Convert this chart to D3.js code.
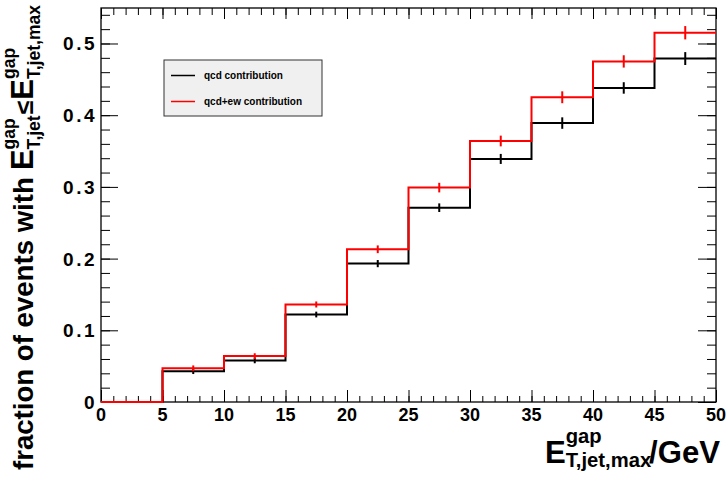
<!DOCTYPE html>
<html><head><meta charset="utf-8">
<script src="https://cdn.jsdelivr.net/npm/d3@7"></script>
<style>
body{margin:0;background:#fff;}
text{font-family:"Liberation Sans",Arial,Helvetica,sans-serif;font-weight:bold;}
</style></head>
<body><svg id="c" width="727" height="478"></svg>
<script>
const binEdges = [0,5,10,15,20,25,30,35,40,45,50];
const qcd     = [0, 0.043, 0.058, 0.122, 0.193, 0.271, 0.339, 0.389, 0.438, 0.479];
const qcdErr  = [0, 0.004, 0.004, 0.004, 0.005, 0.006, 0.007, 0.008, 0.008, 0.009];
const qcdew   = [0, 0.047, 0.064, 0.136, 0.213, 0.299, 0.364, 0.425, 0.475, 0.515];
const qcdewErr= [0, 0.004, 0.004, 0.0042, 0.0054, 0.0067, 0.0075, 0.0083, 0.0086, 0.0093];
const xTicks = [0,5,10,15,20,25,30,35,40,45,50];
const yTicks = [0,0.1,0.2,0.3,0.4,0.5];
const yTickLabels = ["0","0.1","0.2","0.3","0.4","0.5"];
const legendLabels = ["qcd contribution","qcd+ew contribution"];

const svg = d3.select("#c");
const L=101,R=716,T=8,B=402;
const x = d3.scaleLinear().domain([0,50]).range([L,R]);
const y = d3.scaleLinear().domain([0,0.5495]).range([B,T]);

// axes
const ax = svg.append("g");
ax.append("g").attr("transform",`translate(0,${B})`)
  .call(d3.axisBottom(x).tickValues(d3.range(0,51,1)).tickSize(-6).tickFormat(""));
ax.append("g").attr("transform",`translate(0,${B})`)
  .call(d3.axisBottom(x).tickValues(xTicks).tickSize(-12).tickFormat(""));
ax.append("g").attr("transform",`translate(0,${T})`)
  .call(d3.axisTop(x).tickValues(d3.range(0,51,1)).tickSize(-7).tickFormat(""));
ax.append("g").attr("transform",`translate(0,${T})`)
  .call(d3.axisTop(x).tickValues(xTicks).tickSize(-11).tickFormat(""));
ax.append("g").attr("transform",`translate(${L},0)`)
  .call(d3.axisLeft(y).tickValues(d3.range(0,0.55,0.02)).tickSize(-9).tickFormat(""));
ax.append("g").attr("transform",`translate(${L},0)`)
  .call(d3.axisLeft(y).tickValues(yTicks).tickSize(-17).tickFormat(""));
ax.append("g").attr("transform",`translate(${R},0)`)
  .call(d3.axisRight(y).tickValues(d3.range(0,0.55,0.02)).tickSize(-9).tickFormat(""));
ax.append("g").attr("transform",`translate(${R},0)`)
  .call(d3.axisRight(y).tickValues(yTicks).tickSize(-18).tickFormat(""));
ax.selectAll(".domain").remove();
ax.selectAll(".tick line").attr("stroke","#000").attr("stroke-width",1);
svg.append("rect").attr("x",L).attr("y",T).attr("width",R-L).attr("height",B-T)
  .attr("fill","none").attr("stroke","#000").attr("stroke-width",1.3);

// tick labels
svg.append("g").selectAll("text").data(xTicks).join("text")
  .attr("x",d=>x(d)).attr("y",421).attr("text-anchor","middle")
  .attr("font-size",18).text(d=>d);
svg.append("g").selectAll("text").data(yTicks).join("text")
  .attr("x",97).attr("y",d=>y(d)+7).attr("text-anchor","end")
  .attr("font-size",19).attr("letter-spacing",2.5).text((d,i)=>yTickLabels[i]);

// histograms
function stepPts(v){ const p=v.map((d,i)=>[binEdges[i],d]); p.push([binEdges[binEdges.length-1],v[v.length-1]]); return p; }
const line = d3.line().x(d=>x(d[0])).y(d=>y(d[1])).curve(d3.curveStepAfter);
function drawHist(v,e,col){
  svg.append("path").attr("d",line(stepPts(v))).attr("fill","none")
    .attr("stroke",col).attr("stroke-width",2);
  svg.append("g").selectAll("line").data(v).join("line")
    .attr("x1",(d,i)=>x((binEdges[i]+binEdges[i+1])/2))
    .attr("x2",(d,i)=>x((binEdges[i]+binEdges[i+1])/2))
    .attr("y1",(d,i)=>y(d-e[i])).attr("y2",(d,i)=>y(d+e[i]))
    .attr("stroke",col).attr("stroke-width",2);
}
drawHist(qcd,qcdErr,"#000");
drawHist(qcdew,qcdewErr,"#ff0000");

// legend
const lg = svg.append("g");
lg.append("rect").attr("x",164).attr("y",60).attr("width",158).attr("height",56)
  .attr("fill","#f0f0f0").attr("stroke","#333").attr("stroke-width",1);
[["#000",75.5],["#ff0000",101.5]].forEach((c,i)=>{
  lg.append("line").attr("x1",171).attr("x2",195).attr("y1",c[1]).attr("y2",c[1])
    .attr("stroke",c[0]).attr("stroke-width",1.5);
  lg.append("text").attr("x",204).attr("y",c[1]+3.5).attr("font-size",10).text(legendLabels[i]);
});

// rich text helper
function rich(g, parts){
  let cx=0;
  parts.forEach(p=>{
    if(p.t!==undefined){
      const t=g.append("text").attr("x",cx).attr("y",0).attr("font-size",p.s).text(p.t);
      cx += t.node().getComputedTextLength() + (p.gap||0);
    } else {
      const a=g.append("text").attr("x",cx).attr("y",p.supDy).attr("font-size",p.s).text(p.sup);
      const b=g.append("text").attr("x",cx).attr("y",p.subDy).attr("font-size",p.s).text(p.sub);
      cx += Math.max(a.node().getComputedTextLength(), b.node().getComputedTextLength()) + (p.gap||0);
    }
  });
  return cx;
}
// x title: fit to span 545..720
const xt = svg.append("g");
const xin = xt.append("g");
const xw = rich(xin,[{t:"E",s:30},{sup:"gap",sub:"T,jet,max",s:19.5,supDy:-19,subDy:4,gap:-2},{t:"/GeV",s:30}]);
const xk = 175/xw;
xt.attr("transform",`translate(545,463) scale(${xk})`);

// y title: main text spans y 470..172, math part 170..5
const yt = svg.append("g").attr("transform","translate(33,470) rotate(-90)");
const mainT = yt.append("text").attr("x",0).attr("y",0).attr("font-size",28).text("fraction of events with");
const mw0 = mainT.node().getComputedTextLength();
mainT.attr("font-size", 28*293/mw0);
const mg = yt.append("g");
const mathW = rich(mg,[{t:"E",s:30},{sup:"gap",sub:"T,jet",s:17,supDy:-17,subDy:7,gap:1},{t:"\u2264",s:24,gap:1},{t:"E",s:30},{sup:"gap",sub:"T,jet,max",s:17,supDy:-17,subDy:7}]);
const mk = 165/mathW;
mg.attr("transform",`translate(300,0) scale(${mk})`);
</script></body></html>
